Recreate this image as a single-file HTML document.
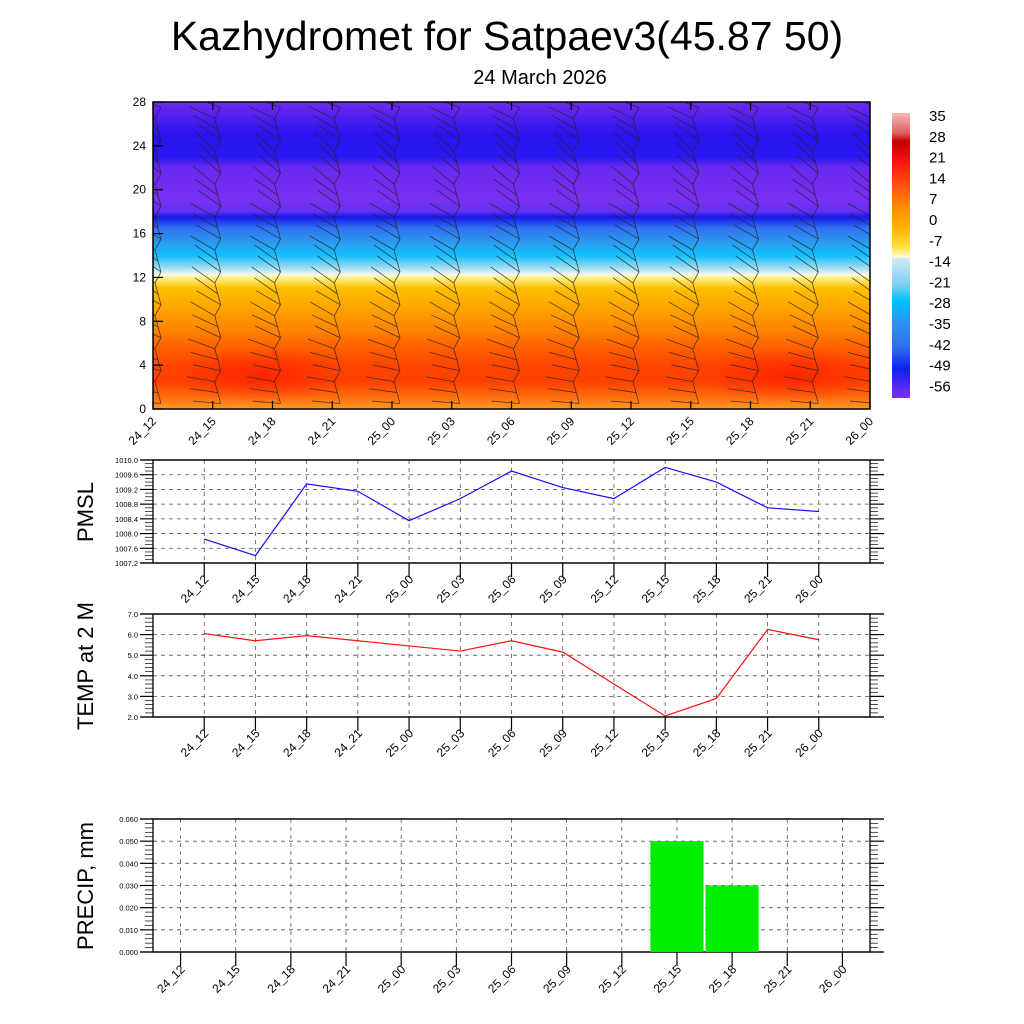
<!DOCTYPE html>
<html><head><meta charset="utf-8">
<style>
html,body{margin:0;padding:0;background:#fff;}
svg{display:block;font-family:"Liberation Sans",Arial,sans-serif;}
</style></head>
<body>
<svg id="root" width="1024" height="1024" viewBox="0 0 1024 1024">
<defs>
<linearGradient id="tgrad" x1="0" y1="0" x2="0" y2="1">
<stop offset="0" stop-color="#6a2cf0"/>
<stop offset="0.036" stop-color="#5a22f0"/>
<stop offset="0.107" stop-color="#2a12f0"/>
<stop offset="0.18" stop-color="#2818f0"/>
<stop offset="0.214" stop-color="#6a28f0"/>
<stop offset="0.32" stop-color="#7a30f0"/>
<stop offset="0.357" stop-color="#6030f0"/>
<stop offset="0.375" stop-color="#1818e8"/>
<stop offset="0.41" stop-color="#3070f0"/>
<stop offset="0.464" stop-color="#2aa0f0"/>
<stop offset="0.5" stop-color="#10c0ff"/>
<stop offset="0.536" stop-color="#90d8f0"/>
<stop offset="0.556" stop-color="#d8f0f8"/>
<stop offset="0.564" stop-color="#fffad0"/>
<stop offset="0.578" stop-color="#ffe870"/>
<stop offset="0.607" stop-color="#ffc000"/>
<stop offset="0.68" stop-color="#ffa000"/>
<stop offset="0.75" stop-color="#ff8000"/>
<stop offset="0.786" stop-color="#ff6800"/>
<stop offset="0.857" stop-color="#ff4500"/>
<stop offset="0.91" stop-color="#ff4000"/>
<stop offset="0.964" stop-color="#ff7010"/>
<stop offset="1" stop-color="#ff9a20"/>
</linearGradient>
<radialGradient id="hot" cx="0.5" cy="0.5" r="0.5">
<stop offset="0" stop-color="#ff2000" stop-opacity="0.8"/>
<stop offset="1" stop-color="#ff2000" stop-opacity="0"/>
</radialGradient>
<linearGradient id="cbgrad" x1="0" y1="0" x2="0" y2="1">
<stop offset="0" stop-color="#f8b8b8"/>
<stop offset="0.07" stop-color="#e06060"/>
<stop offset="0.1" stop-color="#c00000"/>
<stop offset="0.17" stop-color="#ff1010"/>
<stop offset="0.25" stop-color="#ff5010"/>
<stop offset="0.33" stop-color="#ff8c00"/>
<stop offset="0.4" stop-color="#ffb000"/>
<stop offset="0.47" stop-color="#ffe040"/>
<stop offset="0.505" stop-color="#fffbd0"/>
<stop offset="0.51" stop-color="#d0eaf8"/>
<stop offset="0.6" stop-color="#80d0f0"/>
<stop offset="0.66" stop-color="#00c0ff"/>
<stop offset="0.74" stop-color="#3090f0"/>
<stop offset="0.82" stop-color="#3070e8"/>
<stop offset="0.9" stop-color="#1020f0"/>
<stop offset="1" stop-color="#8030f0"/>
</linearGradient>
<clipPath id="topclip"><rect x="153" y="102" width="717" height="307"/></clipPath>
</defs>

<text x="507" y="50" font-size="41" text-anchor="middle">Kazhydromet for Satpaev3(45.87 50)</text>
<text x="540" y="84" font-size="20" text-anchor="middle">24 March 2026</text>

<g id="top">
<rect x="153" y="102" width="717" height="307" fill="url(#tgrad)"/>
<g clip-path="url(#topclip)">
<ellipse cx="260" cy="375" rx="90" ry="28" fill="url(#hot)"/>
<ellipse cx="790" cy="375" rx="90" ry="28" fill="url(#hot)"/>
<g id="barbs" opacity="0.8"></g>
</g>
<rect x="153" y="102" width="717" height="307" fill="none" stroke="#000" stroke-width="1.5"/>
<g id="topaxes"></g>
</g>

<g id="colorbar">
<rect x="892" y="113" width="18" height="285" fill="url(#cbgrad)"/>
</g>

<g id="pmsl"></g>
<g id="temp"></g>
<g id="precip"></g>
</svg>
<script>
const categories = ["24_12","24_15","24_18","24_21","25_00","25_03","25_06","25_09","25_12","25_15","25_18","25_21","26_00"];
const pmslValues = [1007.85,1007.4,1009.35,1009.15,1008.35,1008.95,1009.7,1009.25,1008.95,1009.8,1009.4,1008.7,1008.6];
const tempValues = [6.05,5.7,5.95,5.7,5.45,5.2,5.7,5.15,3.6,2.05,2.9,6.25,5.75];
const precipValues = [0,0,0,0,0,0,0,0,0,0.05,0.03,0,0];
const pmslTicks = ["1007.2","1007.6","1008.0","1008.4","1008.8","1009.2","1009.6","1010.0"];
const tempTicks = ["2.0","3.0","4.0","5.0","6.0","7.0"];
const precipTicks = ["0.000","0.010","0.020","0.030","0.040","0.050","0.060"];
const heightTicks = ["0","4","8","12","16","20","24","28"];
const colorbarLabels = ["35","28","21","14","7","0","-7","-14","-21","-28","-35","-42","-49","-56"];
const barbLevels = [0.5,1.5,2.5,3.5,4.5,5.5,6.5,7.5,8.5,9.5,10.5,11.5,12.5,13.5,14.5,15.5,16.5,17.5,18.5,19.5,20.5,21.5,22.5,23.5,24.5,25.5,26.5,27.5];
const barbAngles = [-5,-8,-10,-12,-15,-20,-25,-25,-30,-30,-35,-35,-35,-35,-30,-30,-30,-30,-35,-35,-40,-40,-45,-45,-35,-30,-25,-20];

const NS="http://www.w3.org/2000/svg";
function mk(tag,attrs,parent,text){const e=document.createElementNS(NS,tag);for(const k in attrs)e.setAttribute(k,attrs[k]);if(text!==undefined)e.textContent=text;parent.appendChild(e);return e;}

const topG=document.getElementById('topaxes');
const tX=i=>153+i*(717/12);
const tY=h=>409-h*(307/28);
heightTicks.forEach(t=>{
  const y=tY(+t);
  const l=mk('line',{x1:153,x2:163,y1:y,y2:y,stroke:'#000','stroke-width':1.2},topG);
  
  
  const tx=mk('text',{x:146,y:y+4,'font-size':12,'text-anchor':'end'},topG,t);
  
  
});
categories.forEach((c,i)=>{
  const x=tX(i);
  mk('line',{x1:x,x2:x,y1:409,y2:401,stroke:'#000','stroke-width':1.2},topG);
  mk('line',{x1:x,x2:x,y1:102,y2:110,stroke:'#000','stroke-width':1.2},topG);
  const tx=mk('text',{x:x+4,y:422,'font-size':12,'text-anchor':'end',transform:`rotate(-45 ${x+4} 422)`},topG,c);
  
  
});
const bG=document.getElementById('barbs');
categories.forEach((c,i)=>{
  const x0=tX(i);
  let pts=[];
  barbLevels.forEach((h,k)=>{
    const y=tY(h);
    const off=(k%3)*3;
    const x=x0+8-off;
    pts.push(x+','+y);
    const a=barbAngles[k]*Math.PI/180;
    const len=28;
    const f=mk('line',{x1:x,y1:y,x2:x-len*Math.cos(a),y2:y+len*Math.sin(a),stroke:'#222','stroke-width':0.8},bG);
    
    
  });
  const p=mk('polyline',{points:pts.join(' '),fill:'none',stroke:'#222','stroke-width':0.8},bG);
  
  
});
const cbG=document.getElementById('colorbar');
colorbarLabels.forEach((t,i)=>{
  const tx=mk('text',{x:929,y:121+i*20.8,'font-size':15},cbG,t);
  
  
});

function panel(gid,top,bottom,ticks,vmin,vmax,minorN,title,titleY,xf,labelY){
  const g=document.getElementById(gid);
  const y=v=>bottom-(v-vmin)/(vmax-vmin)*(bottom-top);
  ticks.forEach(t=>{
    const yy=y(+t);
    const gl=mk('line',{x1:153,x2:870,y1:yy,y2:yy,stroke:'#555','stroke-width':0.8,'stroke-dasharray':'4,4'},g);
    
    
    mk('line',{x1:140,x2:153,y1:yy,y2:yy,stroke:'#000','stroke-width':1.2},g);
    mk('line',{x1:870,x2:884,y1:yy,y2:yy,stroke:'#000','stroke-width':1.2},g);
    const tx=mk('text',{x:138,y:yy+3,'font-size':7.5,'text-anchor':'end'},g,t);
    
    
  });
  const step=(bottom-top)/((ticks.length-1)*minorN);
  for(let k=0;k<=(ticks.length-1)*minorN;k++){
    if(k%minorN===0)continue;
    const yy=bottom-k*step;
    mk('line',{x1:145,x2:153,y1:yy,y2:yy,stroke:'#000','stroke-width':0.7},g);
    mk('line',{x1:870,x2:878,y1:yy,y2:yy,stroke:'#000','stroke-width':0.7},g);
  }
  categories.forEach((c,i)=>{
    const x=xf(i);
    const gl=mk('line',{x1:x,x2:x,y1:top,y2:bottom,stroke:'#555','stroke-width':0.8,'stroke-dasharray':'4,4'},g);
    
    
    mk('line',{x1:x,x2:x,y1:bottom,y2:bottom+14,stroke:'#000','stroke-width':1.2},g);
    const tx=mk('text',{x:x+5,y:labelY,'font-size':12,'text-anchor':'end',transform:`rotate(-45 ${x+5} ${labelY})`},g,c);
    
    
  });
  const fr=mk('rect',{x:153,y:top,width:717,height:bottom-top,fill:'none',stroke:'#000','stroke-width':1.3},g);
  
  
  mk('line',{x1:140,x2:884,y1:top,y2:top,stroke:'#000','stroke-width':1.2},g);
  mk('line',{x1:140,x2:884,y1:bottom,y2:bottom,stroke:'#000','stroke-width':1.2},g);
  const yt=mk('text',{x:93,y:titleY,'font-size':22,'text-anchor':'middle',transform:`rotate(-90 93 ${titleY})`},g,title);
  
  
  return {g,y};
}
const lx=i=>153+(i+1)*(717/14);
const px=i=>153+(i+0.5)*(717/13);

const P=panel('pmsl',460,563,pmslTicks,1007.2,1010.0,4,'PMSL',512,lx,580);
const pl=mk('polyline',{points:pmslValues.map((v,i)=>lx(i)+','+P.y(v)).join(' '),fill:'none',stroke:'#1010ff','stroke-width':1.2},P.g);



const T=panel('temp',614,717,tempTicks,2,7,5,'TEMP at 2 M',666,lx,734);
const tl=mk('polyline',{points:tempValues.map((v,i)=>lx(i)+','+T.y(v)).join(' '),fill:'none',stroke:'#ff1010','stroke-width':1.2},T.g);



const R=panel('precip',819,952,precipTicks,0,0.06,5,'PRECIP, mm',886,px,970);
precipValues.forEach((v,i)=>{
  if(v<=0)return;
  const w=717/13;
  const b=mk('rect',{x:px(i)-w/2+1,y:R.y(v),width:w-2,height:952-R.y(v),fill:'#00ee00'},R.g);
  
  
});
</script>
</body></html>
